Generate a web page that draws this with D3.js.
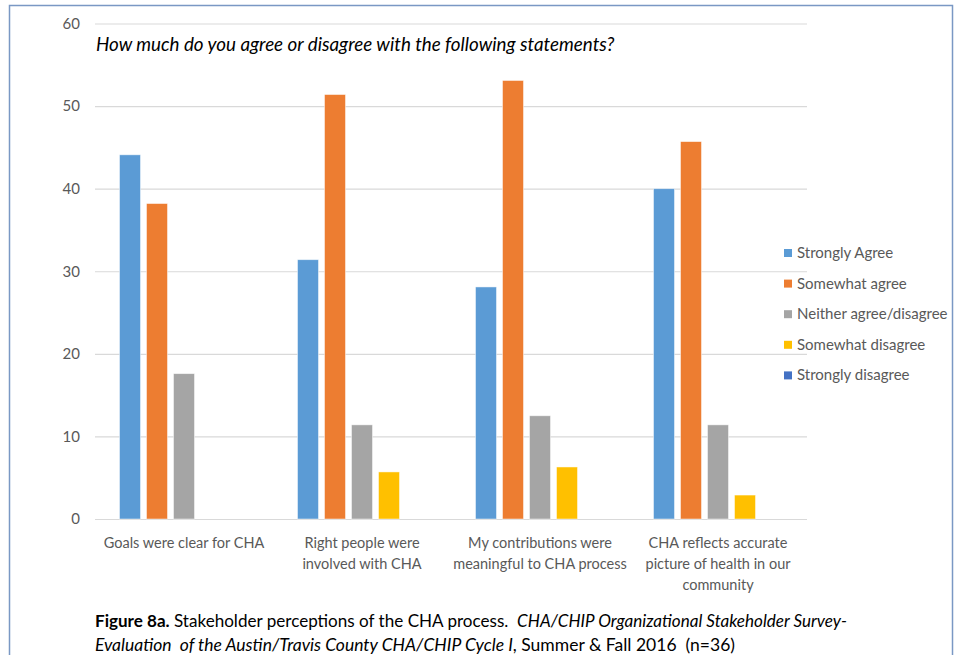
<!DOCTYPE html>
<html>
<head>
<meta charset="utf-8">
<script src="https://cdn.jsdelivr.net/npm/d3@7"></script>
<style>
  html, body { margin: 0; padding: 0; background: #fff; }
  svg { display: block; }
  text { font-family: Lato, "Open Sans", sans-serif; }
</style>
</head>
<body>
<svg id="chart" width="963" height="655"></svg>
<script>
// Statements asked in the survey (x categories)
const statements = [
  ["Goals were clear for CHA"],
  ["Right people were", "involved with CHA"],
  ["My contributions were", "meaningful to CHA process"],
  ["CHA reflects accurate", "picture of health in our", "community"]
];
const categoryKeys = ["goals", "people", "contrib", "reflects"];

// Response options (series)
const responses = ["Strongly Agree", "Somewhat agree", "Neither agree/disagree", "Somewhat disagree", "Strongly disagree"];
const responseColors = ["#5B9BD5", "#ED7D31", "#A5A5A5", "#FFC000", "#4472C4"];

// Percent of respondents per statement, one array per response option
const stronglyAgree      = [44.1, 31.4, 28.1, 40.0];
const somewhatAgree      = [38.2, 51.4, 53.1, 45.7];
const neitherAgree       = [17.6, 11.4, 12.5, 11.4];
const somewhatDisagree   = [0.0, 5.7, 6.3, 2.9];
const stronglyDisagree   = [0.0, 0.0, 0.0, 0.0];
const seriesValues = [stronglyAgree, somewhatAgree, neitherAgree, somewhatDisagree, stronglyDisagree];

const yTicks = [0, 10, 20, 30, 40, 50, 60];

const svg = d3.select("#chart");

// Frame around the whole figure
svg.append("rect")
  .attr("x", 9.5).attr("y", 5.5)
  .attr("width", 943).attr("height", 700)
  .attr("fill", "none")
  .attr("stroke", "#7A98C4")
  .attr("stroke-width", 1.5);

const plot = { left: 95, right: 807, top: 23.5, bottom: 519 };

const x0 = d3.scaleBand()
  .domain(categoryKeys)
  .range([plot.left, plot.right])
  .paddingInner(0).paddingOuter(0);

const x1 = d3.scaleBand()
  .domain(responses)
  .range([0, x0.bandwidth()])
  .paddingInner(0.222)
  .paddingOuter(0.907);

const y = d3.scaleLinear().domain([0, 60]).range([plot.bottom, plot.top]);

// Gridlines and y tick labels via a left axis
const yAxis = d3.axisLeft(y)
  .tickValues(yTicks)
  .tickSize(-(plot.right - plot.left))
  .tickPadding(15);

const gy = svg.append("g")
  .attr("transform", `translate(${plot.left},0)`)
  .call(yAxis);
gy.select(".domain").remove();
gy.selectAll(".tick line")
  .attr("stroke", "#D9D9D9")
  .attr("stroke-width", 1.2);
gy.selectAll(".tick text")
  .attr("fill", "#595959")
  .style("font-size", "15px")
  .style("font-family", "Lato, sans-serif");

// Bars
const rows = categoryKeys.map((k, i) => ({
  key: k,
  values: responses.map((r, j) => ({ response: r, value: seriesValues[j][i], color: responseColors[j] }))
}));

const groups = svg.append("g").selectAll("g")
  .data(rows)
  .join("g")
  .attr("transform", d => `translate(${x0(d.key)},0)`);

groups.selectAll("rect")
  .data(d => d.values.filter(v => v.value > 0))
  .join("rect")
  .attr("x", d => x1(d.response))
  .attr("y", d => y(d.value))
  .attr("width", x1.bandwidth())
  .attr("height", d => y(0) - y(d.value))
  .attr("fill", d => d.color)
  .attr("stroke", "#ffffff")
  .attr("stroke-opacity", 0.6)
  .attr("stroke-width", 0.8);

// Category labels
const xLabels = svg.append("g")
  .selectAll("text")
  .data(statements)
  .join("text")
  .attr("text-anchor", "middle")
  .attr("fill", "#595959")
  .style("font-size", "14.5px")
  .attr("transform", (d, i) => `translate(${x0(categoryKeys[i]) + x0.bandwidth() / 2},548)`);

xLabels.selectAll("tspan")
  .data(d => d)
  .join("tspan")
  .attr("x", 0)
  .attr("y", (d, i) => i * 21)
  .text(d => d);

// Question text inside the plot
svg.append("text")
  .attr("x", 96)
  .attr("y", 51)
  .attr("fill", "#000")
  .style("font-size", "18.8px")
  .style("font-style", "italic")
  .text("How much do you agree or disagree with the following statements?");

// Legend
const legend = svg.append("g")
  .attr("transform", "translate(784,253)");
const li = legend.selectAll("g")
  .data(responses)
  .join("g")
  .attr("transform", (d, i) => `translate(0,${i * 30.6})`);
li.append("rect")
  .attr("x", 0).attr("y", -4)
  .attr("width", 8).attr("height", 8)
  .attr("fill", (d, i) => responseColors[i]);
li.append("text")
  .attr("x", 13)
  .attr("y", 5)
  .attr("fill", "#595959")
  .style("font-size", "15px")
  .text(d => d);

// Figure caption
const cap = svg.append("g").attr("fill", "#000").style("font-size", "17px");
const cap1 = cap.append("text").attr("x", 95).attr("y", 627)
  .attr("textLength", 752).attr("lengthAdjust", "spacingAndGlyphs");
cap1.append("tspan").style("font-weight", "bold").text("Figure 8a.");
cap1.append("tspan").text(" Stakeholder perceptions of the CHA process.\u00A0\u00A0");
cap1.append("tspan").style("font-style", "italic").text("CHA/CHIP Organizational Stakeholder Survey-");
const cap2 = cap.append("text").attr("x", 95).attr("y", 651)
  .attr("textLength", 640).attr("lengthAdjust", "spacingAndGlyphs");
cap2.append("tspan").style("font-style", "italic").text("Evaluation\u00A0\u00A0of the Austin/Travis County CHA/CHIP Cycle I");
cap2.append("tspan").text(", Summer & Fall 2016\u00A0\u00A0(n=36)");
</script>
</body>
</html>
